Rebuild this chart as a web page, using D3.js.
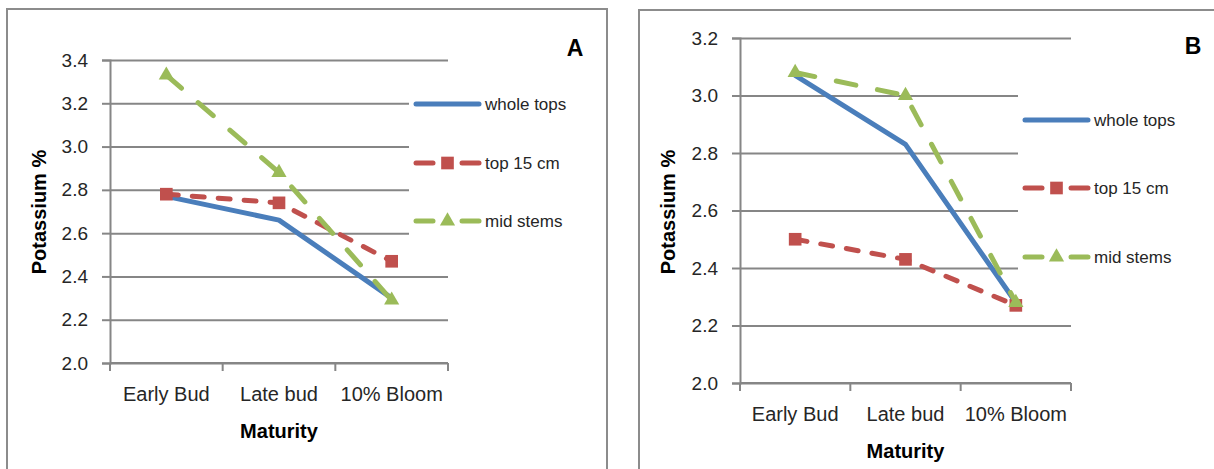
<!DOCTYPE html>
<html>
<head>
<meta charset="utf-8">
<script src="https://cdn.jsdelivr.net/npm/d3@7/dist/d3.min.js"></script>
<style>
  html, body { margin: 0; padding: 0; background: #fff; }
  svg { display: block; font-family: "Liberation Sans", Arial, sans-serif; }
</style>
</head>
<body>
<svg id="chart" width="1214" height="469"></svg>
<script>
// data
const categories = ["Early Bud", "Late bud", "10% Bloom"];
const seriesNames = ["whole tops", "top 15 cm", "mid stems"];
const wholeTopsA = [2.77, 2.66, 2.30];
const top15A = [2.78, 2.74, 2.47];
const midStemsA = [3.33, 2.88, 2.29];
const wholeTopsB = [3.07, 2.83, 2.28];
const top15B = [2.50, 2.43, 2.27];
const midStemsB = [3.08, 3.00, 2.28];
const yTicksA = [2.0, 2.2, 2.4, 2.6, 2.8, 3.0, 3.2, 3.4];
const yTicksB = [2.0, 2.2, 2.4, 2.6, 2.8, 3.0, 3.2];

const colors = ["#4a7ebb", "#c0504d", "#9bbb59"];
const dashes = [null, "12 14", "20 22"];
const markers = [null, "square", "triangle"];
const gridColor = "#868686";
const textColor = "#262626";

const svg = d3.select("#chart");

function markerPath(type) {
  if (type === "square") return d3.symbol(d3.symbolSquare, 160)();
  return d3.symbol(d3.symbolTriangle, 100)();
}

function drawPanel(p) {
  const g = svg.append("g");

  // outer frame of the panel (bottom edge is cut off in the picture)
  g.append("rect")
    .attr("x", p.frame[0]).attr("y", p.frame[1])
    .attr("width", 600).attr("height", 500)
    .attr("fill", "#fff").attr("stroke", "#8c8c8c").attr("stroke-width", 2);

  const x = d3.scaleBand().domain(categories).range([p.x0, p.x1]).padding(0);
  const y = d3.scaleLinear().domain([2.0, p.yMax]).range([p.yBottom, p.yTop]);
  const cx = d => x(d) + x.bandwidth() / 2;

  // gridlines
  g.append("g")
    .attr("transform", `translate(${p.x0},0)`)
    .call(d3.axisLeft(y).tickValues(p.yTicks).tickSize(-(p.x1 - p.x0)).tickFormat(""))
    .call(a => a.select(".domain").remove())
    .call(a => a.selectAll("line").attr("stroke", gridColor).attr("stroke-width", 2));

  // y axis with outer ticks
  g.append("g")
    .attr("transform", `translate(${p.x0},0)`)
    .call(d3.axisLeft(y).tickValues(p.yTicks).tickSize(8).tickPadding(14).tickFormat(d3.format(".1f")))
    .call(a => a.select(".domain").attr("stroke", gridColor).attr("stroke-width", 2))
    .call(a => a.selectAll("line").attr("stroke", gridColor).attr("stroke-width", 2))
    .call(a => a.selectAll("text").attr("font-size", 19).attr("fill", textColor)
      .attr("font-family", "Liberation Sans, Arial, sans-serif"));

  // x axis: ticks sit on the category boundaries
  const edges = categories.map(c => x(c)).concat([p.x1]);
  const xa = g.append("g");
  xa.append("line")
    .attr("x1", p.x0).attr("x2", p.x1).attr("y1", p.yBottom).attr("y2", p.yBottom)
    .attr("stroke", gridColor).attr("stroke-width", 2);
  xa.selectAll("line.tk").data(edges).enter().append("line").attr("class", "tk")
    .attr("x1", d => d).attr("x2", d => d)
    .attr("y1", p.yBottom).attr("y2", p.yBottom + 8)
    .attr("stroke", gridColor).attr("stroke-width", 2);
  xa.selectAll("text").data(categories).enter().append("text")
    .attr("x", d => cx(d))
    .attr("y", p.yBottom + 38)
    .attr("text-anchor", "middle").attr("font-size", 20).attr("fill", textColor)
    .text(d => d);

  // axis titles
  g.append("text")
    .attr("x", (p.x0 + p.x1) / 2).attr("y", p.mTitleY)
    .attr("text-anchor", "middle").attr("font-size", 20).attr("font-weight", "bold")
    .attr("fill", "#000")
    .text("Maturity");
  g.append("text")
    .attr("transform", `translate(${p.yTitleX},${p.yTitleY}) rotate(-90)`)
    .attr("text-anchor", "middle").attr("font-size", 20).attr("font-weight", "bold")
    .attr("fill", "#000")
    .text("Potassium %");

  // panel letter
  g.append("text")
    .attr("x", p.letterX).attr("y", p.letterY)
    .attr("text-anchor", "middle").attr("font-size", 23).attr("font-weight", "bold")
    .text(p.letter);

  // legend background hides the gridlines behind it
  g.append("rect")
    .attr("x", p.legX - 7).attr("y", p.legY[0] - p.legGap / 2)
    .attr("width", 190).attr("height", p.legGap * 3)
    .attr("fill", "#fff");

  // series
  p.series.forEach((vals, i) => {
    const pts = vals.map((v, j) => [cx(categories[j]), y(v)]);
    g.append("path")
      .attr("d", d3.line()(pts))
      .attr("fill", "none")
      .attr("stroke", colors[i])
      .attr("stroke-width", 5)
      .attr("stroke-linecap", "round")
      .attr("stroke-linejoin", "round")
      .attr("stroke-dasharray", dashes[i]);
    if (markers[i]) {
      g.selectAll(null).data(pts).enter().append("path")
        .attr("transform", d => `translate(${d[0]},${d[1]})`)
        .attr("d", markerPath(markers[i]))
        .attr("fill", colors[i]);
    }
  });

  // legend
  seriesNames.forEach((name, i) => {
    const ly = p.legY[i];
    const lx0 = p.legX, lx1 = p.legX + 63;
    if (markers[i]) {
      [[lx0, lx0 + 17], [lx1 - 17, lx1]].forEach(s => {
        g.append("line").attr("x1", s[0]).attr("x2", s[1]).attr("y1", ly).attr("y2", ly)
          .attr("stroke", colors[i]).attr("stroke-width", 5).attr("stroke-linecap", "round");
      });
      g.append("path")
        .attr("transform", `translate(${(lx0 + lx1) / 2},${ly})`)
        .attr("d", markerPath(markers[i]))
        .attr("fill", colors[i]);
    } else {
      g.append("line").attr("x1", lx0).attr("x2", lx1).attr("y1", ly).attr("y2", ly)
        .attr("stroke", colors[i]).attr("stroke-width", 5).attr("stroke-linecap", "round");
    }
    g.append("text")
      .attr("x", lx1 + 6).attr("y", ly).attr("dy", "0.35em")
      .attr("font-size", 17).attr("fill", textColor)
      .text(name);
  });
}

drawPanel({
  frame: [7, 9], x0: 110, x1: 448, yTop: 60, yBottom: 363, yMax: 3.4, yTicks: yTicksA,
  series: [wholeTopsA, top15A, midStemsA],
  legX: 416, legY: [104, 163, 221], legGap: 59,
  letter: "A", letterX: 575, letterY: 56,
  yTitleX: 46, yTitleY: 212, mTitleY: 438
});

drawPanel({
  frame: [639, 10], x0: 740, x1: 1071, yTop: 38, yBottom: 383, yMax: 3.2, yTicks: yTicksB,
  series: [wholeTopsB, top15B, midStemsB],
  legX: 1025, legY: [120, 188, 257], legGap: 68,
  letter: "B", letterX: 1193, letterY: 54,
  yTitleX: 675, yTitleY: 212, mTitleY: 458
});
</script>
</body>
</html>
